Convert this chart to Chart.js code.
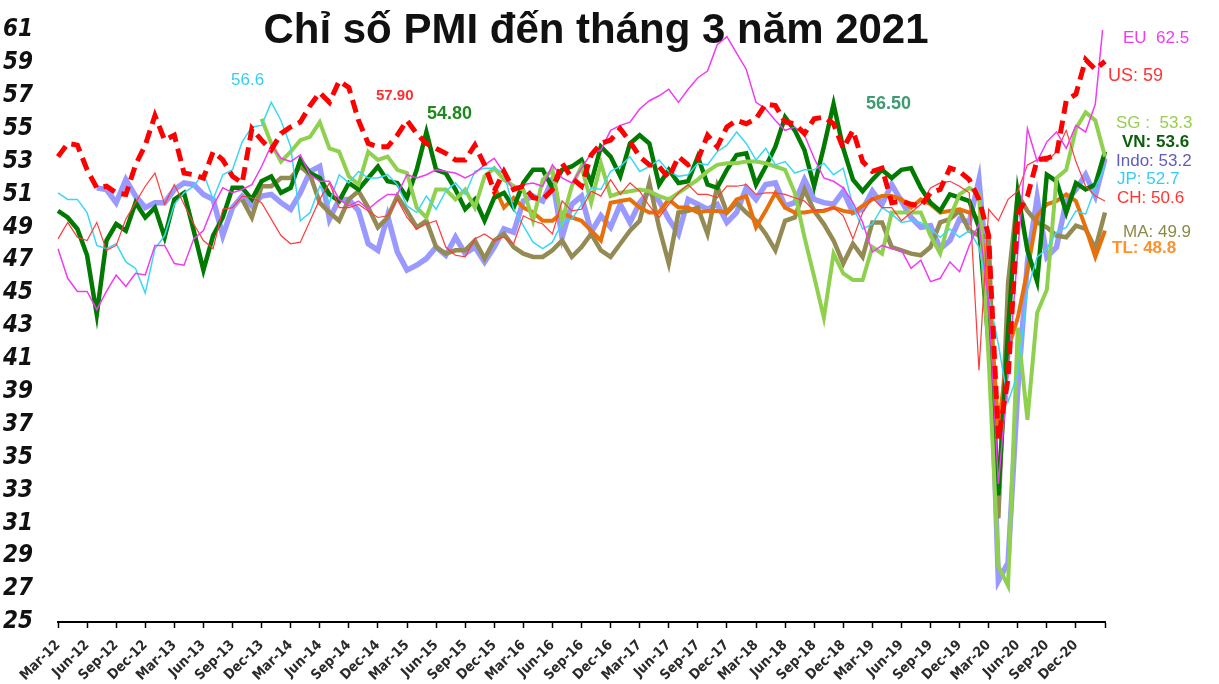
<!DOCTYPE html>
<html><head><meta charset="utf-8">
<script src="https://cdn.jsdelivr.net/npm/chart.js@4.4.1/dist/chart.umd.min.js"></script>
<style>html,body{margin:0;padding:0;background:#fff}canvas{display:block}</style>
</head><body>
<canvas id="c" width="1219" height="684"></canvas>
<script>
// Categories: Mar-12 .. Mar-21 (109 months)
const MONTH_NAMES = ['Jan','Feb','Mar','Apr','May','Jun','Jul','Aug','Sep','Oct','Nov','Dec'];
const categories = [];
for (let y = 2012; y <= 2021; y++) {
  for (let m = 0; m < 12; m++) {
    if (y === 2012 && m < 2) continue;
    if (y === 2021 && m > 2) continue;
    categories.push(MONTH_NAMES[m] + '-' + String(y).slice(2));
  }
}
const yTicks = {min: 25, max: 61, step: 2};

const N = null;
const EU = [47.7,45.9,45.1,45.1,44.0,45.1,46.1,45.4,46.2,46.1,
  47.9,47.9,46.8,46.7,48.3,48.8,50.3,51.4,51.1,51.3,51.6,52.7,
  54.0,53.2,53.0,53.4,52.2,51.8,51.8,50.7,50.3,50.6,50.1,50.6,
  51.0,51.0,52.2,52.0,52.2,52.5,52.4,52.3,52.0,52.3,52.8,53.2,
  52.3,51.2,51.6,51.7,51.5,52.8,52.0,51.7,52.6,53.5,53.7,54.9,
  55.2,55.4,56.2,56.7,57.0,57.4,56.6,57.4,58.1,58.5,60.1,60.6,
  59.6,58.6,56.6,56.2,55.5,54.9,55.1,54.6,53.2,52.0,51.8,51.4,
  50.5,49.3,47.5,47.9,47.7,47.6,46.5,47.0,45.7,45.9,46.9,46.3,
  47.9,49.2,44.5,33.4,40.0,47.5,55.0,53.0,54.2,54.8,53.8,55.2,
  54.8,56.5,62.5];
const US = [53.3,54.1,54.0,52.5,51.4,51.5,51.1,51.0,52.8,54.0,
  55.8,54.3,54.6,52.3,52.2,52.0,53.6,53.1,52.1,51.7,55.0,54.3,
  53.7,54.7,55.1,55.4,56.4,57.2,56.6,57.9,57.5,55.5,54.1,53.9,
  53.9,54.6,55.5,54.7,54.1,53.8,53.5,53.1,53.1,54.0,52.8,51.2,
  52.4,51.3,51.5,50.8,50.7,51.3,52.9,52.0,51.5,53.4,54.1,54.3,
  55.0,54.2,53.3,52.8,52.7,52.0,53.3,52.8,53.1,54.6,53.9,55.1,
  55.5,55.3,55.6,56.5,56.4,55.4,55.3,54.7,55.6,55.7,55.3,53.8,
  54.9,53.0,52.4,52.6,50.5,50.6,50.4,50.3,51.1,51.3,52.6,52.4,
  51.9,50.7,48.5,36.1,39.8,49.8,50.9,53.1,53.2,53.4,56.7,57.1,
  59.2,58.6,59.1];
const CH = [48.3,49.3,48.4,48.2,49.3,47.6,47.9,49.5,50.5,51.5,
  52.3,50.4,51.6,50.4,49.2,48.2,47.7,50.1,50.2,50.9,50.8,50.5,
  49.5,48.5,48.0,48.1,49.4,50.7,51.7,50.2,50.2,50.4,50.0,49.6,
  49.7,50.7,49.6,48.9,49.2,49.4,47.8,47.3,47.2,48.3,48.6,48.2,
  48.4,48.0,49.7,49.4,49.2,48.6,50.6,50.0,50.1,51.2,50.9,51.9,
  51.0,51.7,51.2,50.3,49.6,50.4,51.1,51.6,51.0,51.0,50.8,51.5,
  51.5,51.6,51.0,51.1,51.1,51.0,50.8,50.6,50.0,50.1,50.2,49.7,
  48.3,49.9,50.8,50.2,50.2,49.4,49.9,50.4,51.4,51.7,51.8,51.5,
  51.1,40.3,50.1,49.4,50.7,51.2,52.8,53.1,53.0,53.6,54.9,53.0,
  51.5,50.9,50.6];
const JP = [51.1,50.7,50.7,49.9,47.9,47.7,48.0,46.9,46.5,45.0,
  47.7,48.5,50.4,51.1,51.5,52.3,50.7,52.2,52.5,54.2,55.1,55.2,
  56.6,55.5,53.9,49.4,49.9,51.5,50.5,52.2,51.7,52.4,52.0,52.0,
  52.2,51.6,50.3,49.9,50.9,50.1,51.2,51.7,51.0,52.4,52.6,52.6,
  52.3,50.1,49.1,48.1,47.7,48.1,49.3,49.5,50.4,51.4,51.3,52.4,
  52.7,53.3,52.4,52.7,53.1,52.4,52.1,52.2,52.9,52.8,53.6,54.0,
  54.8,54.1,53.1,53.8,52.8,53.0,52.3,52.5,52.5,52.9,52.2,52.6,
  50.3,48.9,49.2,50.2,49.8,49.3,49.4,49.3,48.9,48.4,48.9,48.4,
  48.8,47.8,44.8,41.9,38.4,40.1,45.2,47.2,47.7,48.7,49.0,50.0,
  49.8,51.4,52.7];
const VN = [50.0,49.6,48.9,47.3,43.7,48.2,49.2,48.8,50.5,49.6,
  50.2,48.4,50.7,51.1,48.8,46.4,48.5,49.6,51.4,51.4,50.7,51.8,
  52.1,51.1,51.4,53.1,52.3,52.0,51.0,50.6,51.7,51.3,52.0,52.7,
  51.8,51.7,50.8,52.5,54.8,52.5,52.3,51.3,50.1,50.7,49.4,50.8,
  51.1,50.2,51.7,52.5,52.5,51.4,52.5,52.7,53.1,51.7,53.9,53.3,
  52.1,54.1,54.6,54.1,51.6,52.5,51.7,51.8,53.3,51.6,51.4,52.5,
  53.4,53.5,51.6,52.7,53.9,55.7,54.9,53.7,51.5,53.9,56.5,53.8,
  51.9,51.2,51.9,52.5,52.0,52.5,52.6,51.4,50.5,50.0,51.0,50.8,
  50.6,49.0,41.9,32.7,42.7,51.1,47.6,45.7,52.2,51.8,49.9,51.7,
  51.3,51.6,53.6];
const SG = [N,N,N,N,N,N,N,N,N,N,
  N,N,N,N,N,N,N,N,N,N,N,55.6,
  54.1,53.0,53.6,54.3,54.5,55.4,53.8,53.6,52.1,51.6,53.6,53.1,
  53.3,52.5,52.3,50.2,49.6,51.3,51.3,50.7,51.3,50.2,52.1,52.6,
  51.9,51.5,51.3,49.4,51.9,52.5,49.4,51.5,52.7,50.5,52.9,50.9,
  51.1,51.2,51.3,51.2,50.9,50.7,51.1,51.5,51.9,52.4,52.8,52.9,
  52.9,53.0,53.0,52.9,52.7,52.5,51.1,48.4,46.0,43.5,47.4,46.2,
  45.8,45.8,47.8,47.4,49.9,49.9,49.9,49.9,48.5,47.4,49.6,51.0,
  51.4,51.0,41.0,28.4,27.2,42.9,37.3,43.8,45.2,52.0,52.5,55.0,
  56.0,55.5,53.3];
const INDO = [N,N,N,N,51.4,51.3,50.5,51.9,50.9,50.2,
  50.5,50.5,51.3,51.7,51.6,51.0,50.7,48.5,50.2,50.9,50.3,50.9,
  51.0,50.5,50.1,51.1,52.4,52.7,49.5,50.7,50.7,50.0,48.0,47.6,
  49.7,47.5,46.4,46.7,47.1,47.8,47.3,48.4,47.4,47.8,46.9,47.8,
  48.9,48.7,50.6,50.9,50.6,51.9,48.4,50.4,50.9,48.7,49.7,49.0,
  50.4,49.3,50.5,51.2,50.6,49.5,48.6,50.7,50.4,50.1,50.4,49.3,
  49.9,51.4,50.7,51.6,51.7,50.3,50.5,51.9,50.7,50.5,50.4,51.2,
  49.9,50.1,51.2,50.4,51.6,50.6,49.6,49.0,49.1,47.7,48.2,49.5,
  49.3,51.9,45.3,27.5,28.6,39.1,46.9,50.8,47.2,47.8,50.6,51.3,
  52.2,50.9,53.2];
const MA = [N,N,N,N,N,N,N,N,N,N,
  N,N,N,N,N,N,N,N,N,50.7,49.6,51.5,
  51.5,52.0,52.0,52.7,52.2,50.5,49.9,49.4,50.7,51.2,50.2,49.0,
  49.6,50.9,50.0,49.0,49.4,47.8,47.4,47.6,47.6,48.2,47.1,48.2,
  48.6,47.8,47.4,47.2,47.2,47.6,48.2,47.2,47.8,48.6,47.6,47.2,
  48.0,48.8,49.4,51.7,49.0,46.8,49.9,50.0,50.2,48.6,51.5,49.9,
  50.5,49.9,49.4,48.6,47.6,49.4,49.6,51.3,50.0,49.2,48.2,46.8,
  48.0,47.2,49.3,49.3,47.8,47.6,47.4,47.3,47.8,49.3,49.5,50.0,
  48.8,48.5,48.4,31.3,45.6,51.0,50.0,49.3,49.0,48.5,48.4,49.1,
  48.9,47.7,49.9];
const TL = [N,N,N,N,N,N,N,N,N,N,
  N,N,N,N,N,N,N,N,N,N,N,N,
  N,N,N,N,N,N,N,N,N,N,N,N,
  N,N,N,N,N,N,N,N,N,N,N,51.5,
  50.2,50.8,50.2,49.9,49.4,49.4,49.9,49.6,49.4,48.8,48.2,50.5,
  50.6,50.7,50.2,49.9,49.9,50.7,50.2,50.2,49.9,50.0,50.0,49.9,
  50.7,50.9,49.0,50.0,51.1,50.2,49.9,49.9,50.0,50.0,50.2,50.0,
  49.9,50.3,50.7,50.9,50.9,50.7,50.2,50.7,50.4,49.9,50.0,50.1,
  49.9,49.5,45.4,36.8,41.6,43.5,46.4,49.7,50.4,50.6,51.0,50.6,
  49.0,47.2,48.8];

const TITLE = 'Chỉ số PMI đến tháng 3 năm 2021';
const notes = [
  {t:'56.6', x:231, y:80, c:'#36CDF5', f:'17px'},
  {t:'57.90', x:376, y:96, c:'#FF2F2F', f:'bold 15px'},
  {t:'54.80', x:427, y:114, c:'#1E8A1E', f:'bold 18px'},
  {t:'56.50', x:866, y:104, c:'#3D9A72', f:'bold 18px'},
  {t:'EU  62.5', x:1123, y:38, c:'#F03CF0', f:'17px'},
  {t:'US: 59', x:1108, y:76, c:'#FF3333', f:'18px'},
  {t:'SG :  53.3', x:1116, y:123, c:'#9ACD4F', f:'17px'},
  {t:'VN: 53.6', x:1122, y:142, c:'#0B5E0B', f:'bold 17px'},
  {t:'Indo: 53.2', x:1116, y:161, c:'#5E5EB8', f:'17px'},
  {t:'JP: 52.7', x:1117, y:179, c:'#36CDF5', f:'17px'},
  {t:'CH: 50.6', x:1117, y:198, c:'#FF3333', f:'17px'},
  {t:'MA: 49.9', x:1123, y:232, c:'#8C8A45', f:'17px'},
  {t:'TL: 48.8', x:1112, y:248, c:'#FF9126', f:'bold 17px'}
];

const overlay = {
  id: 'overlay',
  afterDraw(chart) {
    const ctx = chart.ctx;
    ctx.save();
    ctx.textBaseline = 'middle';
    notes.forEach(n => {
      ctx.font = n.f + ' "Liberation Sans", Arial, sans-serif';
      ctx.fillStyle = n.c;
      ctx.textAlign = 'left';
      ctx.fillText(n.t, n.x, n.y);
    });
    ctx.font = 'bold 42px "Liberation Sans", Arial, sans-serif';
    ctx.fillStyle = '#111';
    ctx.textAlign = 'center';
    ctx.fillText(TITLE, 596, 31);
    ctx.restore();
  }
};

function ds(label, data, color, width, extra) {
  return Object.assign({label, data, borderColor: color, backgroundColor: color,
    borderWidth: width, pointRadius: 0, tension: 0, fill: false}, extra || {});
}

new Chart(document.getElementById('c'), {
  type: 'line',
  data: {
    labels: categories,
    datasets: [
      ds('US', US, '#FF0000', 5, {borderDash: [13, 7]}),
      ds('EU', EU, '#F03CF0', 1.5),
      ds('CH', CH, '#FF3B3B', 1.2),
      ds('JP', JP, '#3CD7F5', 1.5),
      ds('SG', SG, '#8FD14F', 4),
      ds('VN', VN, '#007A00', 4.5),
      ds('TL', TL, '#E8700A', 4),
      ds('MA', MA, '#948A54', 4.5),
      ds('Indo', INDO, '#9999FF', 5.5)
    ]
  },
  options: {
    responsive: false,
    animation: false,
    layout: {padding: {top: 30, right: 114, bottom: 0, left: 0}},
    plugins: {legend: {display: false}, tooltip: {enabled: false}, title: {display: false}},
    scales: {
      x: {
        type: 'category',
        offset: false,
        border: {display: true, color: '#000', width: 2},
        grid: {display: true, drawOnChartArea: false, drawTicks: true, tickLength: 6,
          tickWidth: 1.5,
          tickColor: (c) => (c.index % 3 === 0 ? '#000' : 'rgba(0,0,0,0)')},
        ticks: {
          autoSkip: false, minRotation: 45, maxRotation: 45, padding: 9,
          color: '#2a2a2a',
          font: {family: '"Liberation Sans Narrow", "DejaVu Sans Condensed", Arial, sans-serif', size: 14, weight: 'bold'},
          callback: (v, i) => (i % 3 === 0 && i < categories.length - 1 ? categories[i] : '')
        },
        afterFit: (s) => { s.height = 62; s.paddingLeft = 0; s.paddingRight = 0; }
      },
      y: {
        min: yTicks.min, max: yTicks.max,
        border: {display: false},
        grid: {display: false, drawTicks: false},
        ticks: {
          autoSkip: false,
          stepSize: yTicks.step, padding: 25, color: '#111',
          font: {family: '"Liberation Sans Narrow", "DejaVu Sans Condensed", Arial, sans-serif', size: 24, weight: 'bold', style: 'italic'}
        },
        afterFit: (s) => { s.width = 58; s.paddingTop = 0; s.paddingBottom = 0; }
      }
    }
  },
  plugins: [overlay]
});
</script>
</body></html>
